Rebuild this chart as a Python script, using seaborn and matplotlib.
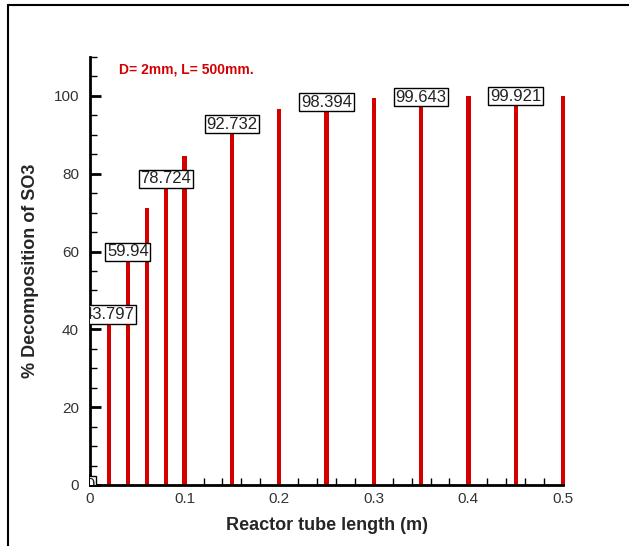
import matplotlib
matplotlib.use("Agg")
import matplotlib.pyplot as plt
from matplotlib.lines import Line2D
from matplotlib.ticker import MultipleLocator
import seaborn as sns
import pandas as pd

# data
tube_length = [0.0, 0.02, 0.04, 0.06, 0.08, 0.10, 0.15, 0.20, 0.25, 0.30, 0.35, 0.40, 0.45, 0.50]
decomposition = [0.0, 43.797, 59.94, 71.2, 78.724, 84.6, 92.732, 96.7, 98.394, 99.4, 99.643, 99.85, 99.921, 99.97]
label_x = [0.0, 0.02, 0.04, 0.08, 0.15, 0.25, 0.35, 0.45]
label_y = [0.0, 43.797, 59.94, 78.724, 92.732, 98.394, 99.643, 99.921]
label_text = ["0", "43.797", "59.94", "78.724", "92.732", "98.394", "99.643", "99.921"]

sns.set_theme(style="white")
plt.rcParams["font.family"] = ["Liberation Sans", "DejaVu Sans"]

fig = plt.figure(figsize=(6.29, 5.46), dpi=100)
ax = fig.add_axes([90/629, 1-485/546, (563-90)/629, (485-57)/546])

df = pd.DataFrame({"x": tube_length, "y": decomposition})
sns.barplot(data=df, x="x", y="y", native_scale=True, width=0.23,
            color="#d40000", saturation=1, edgecolor="none", ax=ax, zorder=2)
for p in ax.patches:
    p.set_clip_on(False)

for lx, ly, lt in zip(label_x, label_y, label_text):
    ax.text(lx, ly, lt, ha="center", va="center", fontsize=12, color="#222222",
            bbox=dict(boxstyle="square,pad=0.1", fc="white", ec="black", lw=1),
            clip_on=True, zorder=4)

ax.text(0.031, 106.7, "D= 2mm, L= 500mm.", color="#d40000", fontsize=10,
        fontweight="bold", ha="left", va="center")

ax.set_xlim(0, 0.5)
ax.set_ylim(0, 110)
ax.set_xticks([0, 0.1, 0.2, 0.3, 0.4, 0.5])
ax.set_xticklabels(["0", "0.1", "0.2", "0.3", "0.4", "0.5"])
ax.set_yticks([0, 20, 40, 60, 80, 100])
ax.set_yticklabels(["0", "20", "40", "60", "80", "100"])
ax.xaxis.set_minor_locator(MultipleLocator(0.02))
ax.yaxis.set_minor_locator(MultipleLocator(5))
ax.tick_params(which="major", direction="in", length=8, width=2, color="black",
               labelsize=11, labelcolor="#333333")
ax.tick_params(which="minor", direction="in", length=5, width=1, color="black")
ax.tick_params(axis="x", which="both", bottom=True, top=False, pad=5)
ax.tick_params(axis="y", which="both", left=True, right=False, pad=8)

for s in ["top", "right"]:
    ax.spines[s].set_visible(False)
for s in ["left", "bottom"]:
    ax.spines[s].set_color("black")
    ax.spines[s].set_linewidth(2)

ax.set_xlabel("Reactor tube length (m)", fontsize=13, fontweight="bold", labelpad=8)
ax.set_ylabel("% Decomposition of SO3", fontsize=13, fontweight="bold", labelpad=10)

fig.add_artist(Line2D([8/629, 8/629], [0, 1-5/546], color="black", lw=1.5, transform=fig.transFigure))
fig.add_artist(Line2D([8/629, 1], [1-5/546, 1-5/546], color="black", lw=1.5, transform=fig.transFigure))

fig.savefig("out.png", dpi=100, facecolor="white")
